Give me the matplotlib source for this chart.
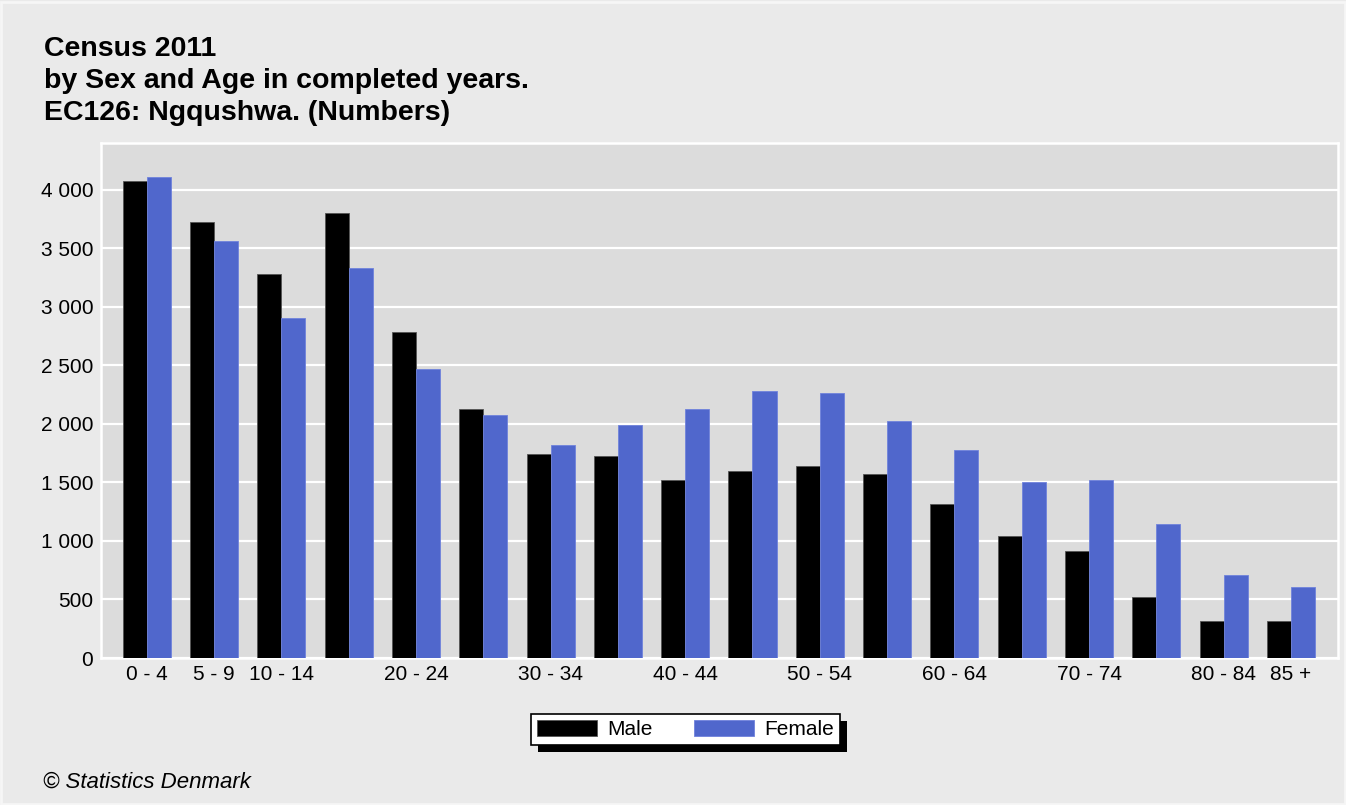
import matplotlib.pyplot as plt
from matplotlib.patches import Rectangle
from matplotlib.ticker import FuncFormatter, MultipleLocator
import numpy as np

plt.rcParams['font.family'] = ['Liberation Sans', 'DejaVu Sans']

# age groups and population counts
ages = ['0 - 4', '5 - 9', '10 - 14', '15 - 19', '20 - 24', '25 - 29', '30 - 34',
        '35 - 39', '40 - 44', '45 - 49', '50 - 54', '55 - 59', '60 - 64',
        '65 - 69', '70 - 74', '75 - 79', '80 - 84', '85 +']
male = [4077, 3726, 3282, 3803, 2786, 2128, 1744, 1726, 1521, 1598, 1641, 1573,
        1316, 1040, 917, 521, 316, 314]
female = [4111, 3564, 2906, 3333, 2470, 2077, 1821, 1991, 2128, 2282, 2265, 2026,
          1778, 1504, 1521, 1143, 712, 607]
# only these age labels are printed under the axis
shown = ['0 - 4', '5 - 9', '10 - 14', '20 - 24', '30 - 34', '40 - 44',
         '50 - 54', '60 - 64', '70 - 74', '80 - 84', '85 +']

bg = '#eaeaea'
panel = '#dcdcdc'
blue = '#5067cc'

fig = plt.figure(figsize=(13.46, 8.05), dpi=100, facecolor=bg)
ax = fig.add_axes([0.0750, 0.1826, 0.9191, 0.6398], facecolor=panel)

x = np.arange(len(ages))
w = 0.357
ax.bar(x - w / 2, male, w, color='black', edgecolor='#555555', linewidth=0.6,
       label='Male', zorder=3)
ax.bar(x + w / 2, female, w, color=blue, edgecolor='#6f82dc', linewidth=0.6,
       label='Female', zorder=3)

ax.set_xlim(-0.68, len(ages) - 0.30)
ax.set_ylim(0, 4400)
ax.yaxis.set_major_locator(MultipleLocator(500))
ax.yaxis.set_major_formatter(FuncFormatter(lambda v, p: f'{int(v):,}'.replace(',', ' ')))
ax.grid(axis='y', color='white', linewidth=1.6, zorder=1)
ax.set_axisbelow(True)
for s in ax.spines.values():
    s.set_color('white')
    s.set_linewidth(1.8)

ax.set_xticks(x)
ax.set_xticklabels([a if a in shown else '' for a in ages])
ax.tick_params(length=0, labelsize=15, colors='black')
ax.tick_params(axis='y', pad=5.5)
ax.tick_params(axis='x', pad=5)

title_lines = ['Census 2011', 'by Sex and Age in completed years.',
               'EC126: Ngqushwa. (Numbers)']
for i, line in enumerate(title_lines):
    fig.text(0.0327, 0.930 - i * 0.0395, line, fontsize=20.5, fontweight='bold',
             va='baseline')
fig.text(0.032, 0.022, '\u00a9 Statistics Denmark', fontsize=16, style='italic',
         va='baseline')

leg = fig.legend(loc='center', bbox_to_anchor=(0.5093, 0.0938), ncol=2,
                 fontsize=15, frameon=True, fancybox=False, edgecolor='black',
                 facecolor='white', framealpha=1, handlelength=2.85,
                 handleheight=0.82, handletextpad=0.5, columnspacing=2.0,
                 borderpad=0.3, borderaxespad=0)
leg.get_frame().set_linewidth(1.2)
leg.set_zorder(5)

# solid black drop shadow behind the legend box
fig.canvas.draw()
bb = leg.get_window_extent()
W, H = fig.bbox.width, fig.bbox.height
fig.patches.append(Rectangle(((bb.x0 + 7) / W, (bb.y0 - 7) / H), bb.width / W,
                             bb.height / H, transform=fig.transFigure,
                             facecolor='black', edgecolor='none', zorder=4))

# thin light outline round the whole chart
fig.patches.append(Rectangle((0.001, 0.001), 0.998, 0.996, transform=fig.transFigure,
                             fill=False, edgecolor='#f6f6f6', linewidth=2, zorder=6))

fig.savefig('out.png', dpi=100, facecolor=bg)
